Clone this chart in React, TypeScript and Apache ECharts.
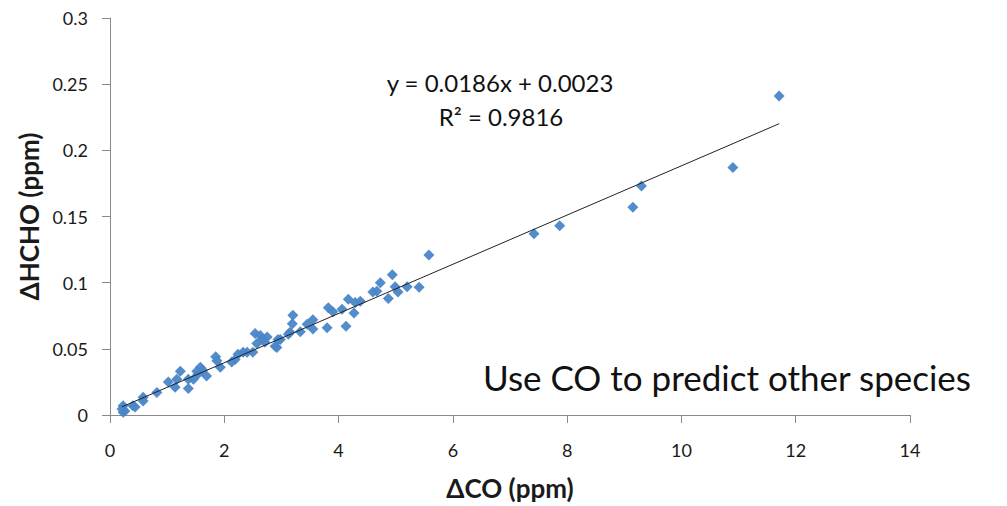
import React, { useEffect, useRef } from "react";
import * as echarts from "echarts";

// ΔCO (ppm) values
const coValues: number[] = [
  11.71, 10.9, 9.3, 9.15, 7.87, 7.42, 5.58, 5.41, 5.2, 5.04, 4.99, 4.94, 4.73, 4.67, 4.6, 4.87,
  4.38, 4.29, 4.17, 4.27, 4.13, 4.06, 3.9, 3.82, 3.8, 3.55, 3.55, 3.45, 3.33, 3.2, 3.19, 3.15,
  3.12, 2.98, 2.94, 2.89, 2.92, 2.75, 2.71, 2.66, 2.63, 2.57, 2.54, 2.5, 2.4, 2.33, 2.24, 2.19,
  2.13, 1.93, 1.87, 1.85, 1.69, 1.62, 1.58, 1.54, 1.52, 1.46, 1.37, 1.37, 1.23, 1.17, 1.14, 1.02,
  0.82, 0.58, 0.58, 0.44, 0.4, 0.26, 0.23, 0.23, 0.21,
];
// ΔHCHO (ppm) values
const hchoValues: number[] = [
  0.241, 0.187, 0.173, 0.157, 0.143, 0.137, 0.121, 0.0965, 0.097, 0.093, 0.097, 0.106, 0.1, 0.0935, 0.093, 0.088,
  0.086, 0.085, 0.0875, 0.077, 0.067, 0.08, 0.078, 0.081, 0.066, 0.072, 0.065, 0.0686, 0.063, 0.0754, 0.069, 0.0626,
  0.061, 0.057, 0.057, 0.052, 0.051, 0.059, 0.055, 0.057, 0.06, 0.054, 0.0615, 0.0475, 0.0475, 0.0475, 0.046, 0.042,
  0.04, 0.036, 0.041, 0.044, 0.0295, 0.034, 0.036, 0.031, 0.033, 0.027, 0.027, 0.02, 0.033, 0.027, 0.021, 0.025,
  0.017, 0.0135, 0.0105, 0.006, 0.007, 0.003, 0.007, 0.002, 0.0045,
];

const fitSlope = 0.0186;
const fitIntercept = 0.0023;
const fitRange: number[] = [0.21, 11.71];

const xTicks = { min: 0, max: 14, interval: 2 };
const yTicks = { min: 0, max: 0.3, interval: 0.05 };

const equationText = "y = 0.0186x + 0.0023";
const r2Text = "R\u00B2 = 0.9816";
const noteText = "Use CO to predict other species";
const xName = "\u0394CO (ppm)";
const yName = "\u0394HCHO (ppm)";

const FONT = "Lato, 'Open Sans', sans-serif";

export default function App() {
  const ref = useRef<HTMLDivElement>(null);
  useEffect(() => {
    if (!ref.current) return;
    const chart = echarts.init(ref.current, undefined, { renderer: "svg" });
    const scatter = coValues.map((x, i) => [x, hchoValues[i]]);
    const fit = fitRange.map((x) => [x, fitSlope * x + fitIntercept]);
    chart.setOption({
      animation: false,
      backgroundColor: "#ffffff",
      grid: { left: 110, right: 97, top: 18, bottom: 90, containLabel: false },
      xAxis: {
        type: "value",
        min: xTicks.min,
        max: xTicks.max,
        interval: xTicks.interval,
        name: xName,
        nameLocation: "middle",
        nameGap: 60,
        nameTextStyle: { fontFamily: FONT, fontWeight: "bold", fontSize: 26, color: "#1a1a1a" },
        axisLine: { lineStyle: { color: "#8a8a8a", width: 1 } },
        axisTick: { show: true, length: 8, lineStyle: { color: "#8a8a8a" } },
        axisLabel: { fontFamily: FONT, fontSize: 18, color: "#1a1a1a", margin: 26 },
        splitLine: { show: false },
      },
      yAxis: {
        type: "value",
        min: yTicks.min,
        max: yTicks.max,
        interval: yTicks.interval,
        name: yName,
        nameLocation: "middle",
        nameGap: 65,
        nameRotate: 90,
        nameTextStyle: { fontFamily: FONT, fontWeight: "bold", fontSize: 26, color: "#1a1a1a" },
        axisLine: { show: true, lineStyle: { color: "#8a8a8a", width: 1 } },
        axisTick: { show: true, length: 8, lineStyle: { color: "#8a8a8a" } },
        axisLabel: { fontFamily: FONT, fontSize: 18, color: "#1a1a1a", margin: 22 },
        splitLine: { show: false },
      },
      series: [
        {
          type: "scatter",
          data: scatter,
          symbol: "diamond",
          symbolSize: 11,
          itemStyle: { color: "#4a86c8", opacity: 0.95 },
          z: 2,
        },
        {
          type: "line",
          data: fit,
          symbol: "none",
          lineStyle: { color: "#222", width: 1 },
          z: 3,
        },
      ],
      graphic: [
        {
          type: "text",
          x: 500,
          y: 82,
          style: { text: equationText, font: `24px ${FONT}`, fill: "#111", align: "center", verticalAlign: "middle" },
        },
        {
          type: "text",
          x: 501,
          y: 116,
          style: { text: r2Text, font: `24px ${FONT}`, fill: "#111", align: "center", verticalAlign: "middle" },
        },
        {
          type: "text",
          x: 727,
          y: 377,
          style: { text: noteText, font: `35px ${FONT}`, fill: "#111", align: "center", verticalAlign: "middle" },
        },
      ],
    });
    return () => chart.dispose();
  }, []);
  return (
    <div
      ref={ref}
      style={{ position: "fixed", left: 0, top: 0, width: 1007, height: 506, background: "#fff" }}
    />
  );
}
